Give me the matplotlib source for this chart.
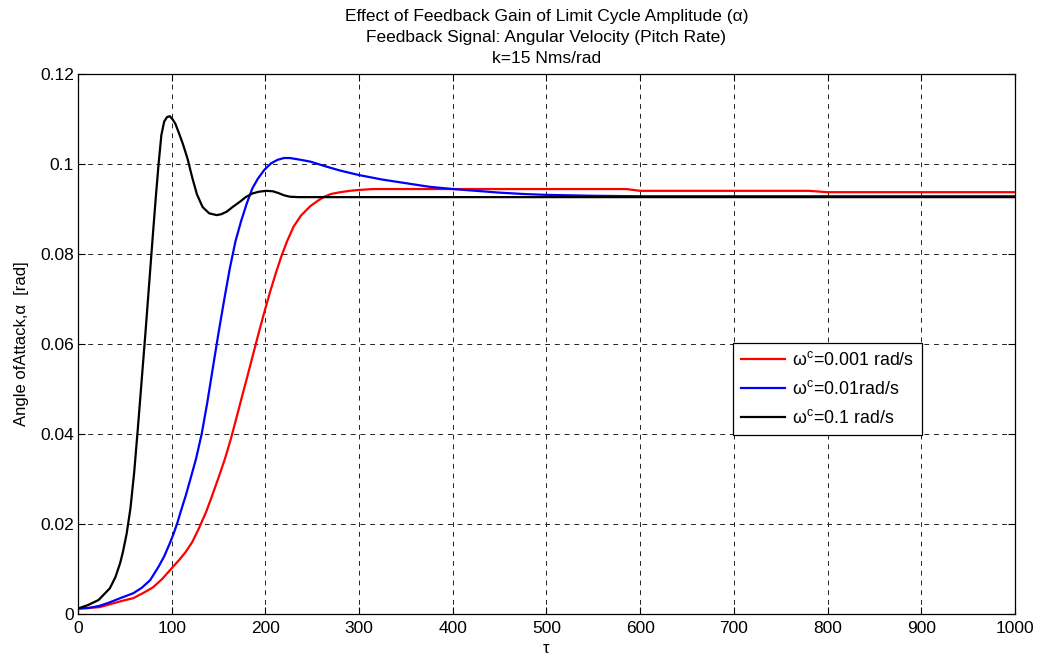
import matplotlib
matplotlib.use("Agg")
import matplotlib.pyplot as plt

plt.rcParams['font.family'] = ['Liberation Sans', 'DejaVu Sans']
plt.rcParams['mathtext.fontset'] = 'custom'
plt.rcParams['mathtext.rm'] = 'Liberation Sans'
plt.rcParams['mathtext.it'] = 'Liberation Sans'

# time response for the three cut-off frequencies
tau_slow = [0, 23, 35, 47, 59, 70, 80, 90, 101, 108, 115, 122, 129, 137, 143,
            150, 157, 163, 169, 175, 181, 187, 193, 199, 205, 211, 217, 223,
            230, 238, 248, 256, 262, 270, 280, 290, 300, 315, 585, 600, 780,
            800, 1000]
alpha_slow = [0.0012, 0.0015, 0.0022, 0.0029, 0.0035, 0.0047, 0.0059, 0.0078,
              0.0104, 0.0120, 0.0138, 0.0160, 0.0190, 0.0228, 0.0262, 0.0303,
              0.0346, 0.0388, 0.0435, 0.0483, 0.0530, 0.0578, 0.0626, 0.0672,
              0.0716, 0.0757, 0.0795, 0.0828, 0.0861, 0.0886, 0.0907, 0.0919,
              0.0927, 0.0934, 0.0938, 0.0941, 0.0943, 0.0945, 0.0945, 0.0941,
              0.0941, 0.0938, 0.0938]

tau_mid = [0, 11, 23, 33, 45, 59, 68, 77, 86, 92, 98, 102, 106, 110, 115, 120,
           126, 132, 138, 144, 150, 156, 162, 168, 174, 180, 186, 192, 199,
           206, 213, 220, 226, 235, 248, 265, 280, 300, 325, 350, 375, 400,
           425, 450, 475, 500, 550, 600, 1000]
alpha_mid = [0.0012, 0.0013, 0.0018, 0.0025, 0.0035, 0.0046, 0.0058, 0.0075,
             0.0105, 0.0128, 0.0157, 0.0178, 0.0202, 0.0230, 0.0263, 0.0300,
             0.0345, 0.0400, 0.0470, 0.0548, 0.0625, 0.0698, 0.0768, 0.0828,
             0.0873, 0.0912, 0.0946, 0.0968, 0.0988, 0.1002, 0.1010, 0.1014,
             0.1014, 0.1011, 0.1006, 0.0995, 0.0986, 0.0976, 0.0966, 0.0958,
             0.0950, 0.0945, 0.0941, 0.0937, 0.0934, 0.0932, 0.0930, 0.0929,
             0.0929]

tau_fast = [0, 11, 22, 34, 40, 45, 48, 52, 56, 60, 64, 68, 72, 76, 80, 83, 86,
            89, 92, 95, 98, 101, 104, 108, 112, 117, 122, 127, 133, 140, 148,
            153, 159, 165, 173, 179, 186, 193, 201, 208, 214, 220, 226, 235,
            260, 1000]
alpha_fast = [0.0012, 0.0020, 0.0031, 0.0057, 0.0082, 0.0113, 0.0138, 0.0179,
              0.0235, 0.0315, 0.0415, 0.0520, 0.0625, 0.0735, 0.0845, 0.0925,
              0.1000, 0.1065, 0.1095, 0.1105, 0.1107, 0.1100, 0.1090, 0.1068,
              0.1045, 0.1012, 0.0970, 0.0933, 0.0905, 0.0891, 0.0887, 0.0889,
              0.0895, 0.0905, 0.0917, 0.0927, 0.0935, 0.0939, 0.0941, 0.0940,
              0.0936, 0.0931, 0.0928, 0.0927, 0.0927, 0.0927]

labels = [r'$\omega^{\mathrm{c}}$=0.001 rad/s',
          r'$\omega^{\mathrm{c}}$=0.01rad/s',
          r'$\omega^{\mathrm{c}}$=0.1 rad/s']
colors = ['#ff0000', '#0000ff', '#000000']

xticks = list(range(0, 1001, 100))
yticks = [0, 0.02, 0.04, 0.06, 0.08, 0.1, 0.12]
yticklabels = ['0', '0.02', '0.04', '0.06', '0.08', '0.1', '0.12']

fig = plt.figure(figsize=(10.41, 6.6), dpi=100)
ax = fig.add_axes([0.0749, 0.0698, 0.9001, 0.8175])

for t, a, lab, col in zip([tau_slow, tau_mid, tau_fast],
                          [alpha_slow, alpha_mid, alpha_fast], labels, colors):
    ax.plot(t, a, color=col, lw=1.6, label=lab)

ax.set_xlim(0, 1000)
ax.set_ylim(0, 0.12)
ax.set_xticks(xticks)
ax.set_yticks(yticks)
ax.set_yticklabels(yticklabels)
ax.grid(True, color='#222222', linestyle=(0, (5, 5)), linewidth=0.7)
ax.tick_params(direction='in', length=5, width=0.8, top=True, right=True,
               labelsize=12.5)
ax.tick_params(axis='x', pad=5)
ax.tick_params(axis='y', pad=3)
for sp in ax.spines.values():
    sp.set_linewidth(0.9)

ax.set_xlabel('τ', fontsize=12, labelpad=4)
ax.set_ylabel('Angle ofAttack,α  [rad]', fontsize=12, labelpad=8)
ax.set_title('Effect of Feedback Gain of Limit Cycle Amplitude (α)\n'
             'Feedback Signal: Angular Velocity (Pitch Rate)\n'
             'k=15 Nms/rad', fontsize=12.5, linespacing=1.5, pad=8)

leg = ax.legend(loc='upper left', bbox_to_anchor=(0.699, 0.502),
                borderaxespad=0, fontsize=12.8, frameon=True, fancybox=False,
                framealpha=1, edgecolor='black', handlelength=2.5,
                borderpad=0.45, labelspacing=0.62, handletextpad=0.35)
leg.get_frame().set_linewidth(0.9)

fig.savefig('out.png', dpi=100)
